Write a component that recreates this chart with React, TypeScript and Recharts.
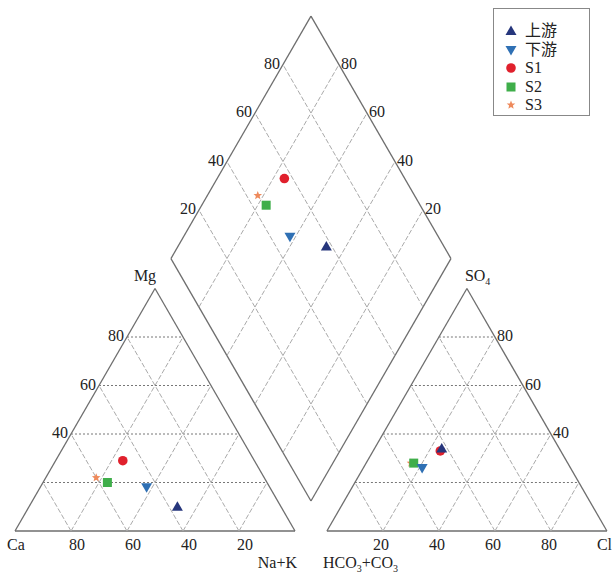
import React from 'react';
import { ScatterChart, Scatter, XAxis, YAxis, ReferenceLine } from 'recharts';

const W = 614;
const H = 575;
const S = Math.sqrt(3) / 2;
const GAP = 11.4; // space between the two triangles (in % units)
const DIAMOND_BASE = 10.7;

// samples, % meq
const SAMPLES = ['上游', '下游', 'S1', 'S2', 'S3'];
const CA = [37, 44, 47, 57, 60];
const MG = [10, 18, 29, 20, 22];
const NAK = [53, 38, 24, 23, 18];
const HCO3 = [42, 53, 43, 55, 56];
const SO4 = [34, 26, 33, 28, 28];
const CL = [24, 21, 24, 17, 16];

const COLORS = ['#26367c', '#2f70b4', '#e0202c', '#3fae4a', '#ee8a5c'];
const MARKERS = ['up', 'down', 'circle', 'square', 'star'];

const TICKS = [20, 40, 60, 80];
const SIDE_TICKS = [40, 60, 80];

const FONT = "'Liberation Serif', 'DejaVu Serif', 'Noto Sans CJK SC', serif";

// ternary -> chart coords
const cationPt = (mg: number, nak: number) => ({ x: nak + mg / 2, y: mg * S });
const anionPt = (so4: number, cl: number) => ({ x: 100 + GAP + cl + so4 / 2, y: so4 * S });
const diamondPt = (camg: number, so4cl: number) => ({
  x: 100 + GAP / 2 + (so4cl - camg) / 2,
  y: DIAMOND_BASE + (camg + so4cl) * S,
});

type P = { x: number; y: number };
type Seg = { a: P; b: P; kind: 'frame' | 'dot' | 'dash' };

const segs: Seg[] = [];
const R0 = 100 + GAP;

// cation triangle
segs.push({ a: { x: 0, y: 0 }, b: { x: 100, y: 0 }, kind: 'frame' });
segs.push({ a: { x: 0, y: 0 }, b: { x: 50, y: 100 * S }, kind: 'frame' });
segs.push({ a: { x: 100, y: 0 }, b: { x: 50, y: 100 * S }, kind: 'frame' });
// anion triangle
segs.push({ a: { x: R0, y: 0 }, b: { x: R0 + 100, y: 0 }, kind: 'frame' });
segs.push({ a: { x: R0, y: 0 }, b: { x: R0 + 50, y: 100 * S }, kind: 'frame' });
segs.push({ a: { x: R0 + 100, y: 0 }, b: { x: R0 + 50, y: 100 * S }, kind: 'frame' });
// diamond
const dB = diamondPt(0, 0);
const dL = diamondPt(100, 0);
const dT = diamondPt(100, 100);
const dR = diamondPt(0, 100);
segs.push({ a: dB, b: dL, kind: 'frame' });
segs.push({ a: dL, b: dT, kind: 'frame' });
segs.push({ a: dT, b: dR, kind: 'frame' });
segs.push({ a: dR, b: dB, kind: 'frame' });

TICKS.forEach((k) => {
  // cation grid
  segs.push({ a: { x: k / 2, y: k * S }, b: { x: 100 - k / 2, y: k * S }, kind: 'dot' });
  segs.push({ a: { x: 100 - k, y: 0 }, b: { x: (100 - k) / 2, y: (100 - k) * S }, kind: 'dash' });
  segs.push({ a: { x: k, y: 0 }, b: { x: k + (100 - k) / 2, y: (100 - k) * S }, kind: 'dash' });
  // anion grid
  segs.push({ a: { x: R0 + k / 2, y: k * S }, b: { x: R0 + 100 - k / 2, y: k * S }, kind: 'dot' });
  segs.push({ a: { x: R0 + k, y: 0 }, b: { x: R0 + k / 2, y: k * S }, kind: 'dash' });
  segs.push({ a: { x: R0 + k, y: 0 }, b: { x: R0 + k + (100 - k) / 2, y: (100 - k) * S }, kind: 'dash' });
  // diamond grid
  segs.push({ a: diamondPt(k, 0), b: diamondPt(k, 100), kind: 'dash' });
  segs.push({ a: diamondPt(0, k), b: diamondPt(100, k), kind: 'dash' });
});

const segStyle = {
  frame: { stroke: '#6e6e6e', strokeWidth: 1.3 },
  dot: { stroke: '#777', strokeWidth: 1, strokeDasharray: '2 2' },
  dash: { stroke: '#aaa', strokeWidth: 1, strokeDasharray: '5 2' },
};

// text labels
type Lbl = { x: number; y: number; parts: [string, boolean][]; anchor: string; dx: number; dy: number };
const labels: Lbl[] = [];
const t = (s: string): [string, boolean][] => [[s, false]];

SIDE_TICKS.forEach((k) => {
  labels.push({ x: k / 2, y: k * S, parts: t(String(k)), anchor: 'end', dx: -3, dy: 4 });
  labels.push({ x: R0 + 100 - k / 2, y: k * S, parts: t(String(k)), anchor: 'start', dx: 2, dy: 4 });
});
TICKS.forEach((k) => {
  labels.push({ x: 100 - k, y: 0, parts: t(String(k)), anchor: 'middle', dx: 6, dy: 19 });
  labels.push({ x: R0 + k, y: 0, parts: t(String(k)), anchor: 'middle', dx: -2, dy: 19 });
  const l = diamondPt(100, k);
  labels.push({ x: l.x, y: l.y, parts: t(String(k)), anchor: 'end', dx: -3, dy: 4 });
  const r = diamondPt(k, 100);
  labels.push({ x: r.x, y: r.y, parts: t(String(k)), anchor: 'start', dx: 2, dy: 4 });
});
labels.push({ x: 50, y: 100 * S, parts: t('Mg'), anchor: 'middle', dx: -10, dy: -8 });
labels.push({ x: 0, y: 0, parts: t('Ca'), anchor: 'start', dx: -8, dy: 19 });
labels.push({ x: 100, y: 0, parts: t('Na+K'), anchor: 'end', dx: 2, dy: 37 });
labels.push({ x: R0 + 50, y: 100 * S, parts: [['SO', false], ['4', true]], anchor: 'start', dx: -2, dy: -8 });
labels.push({
  x: R0, y: 0,
  parts: [['HCO', false], ['3', true], ['+CO', false], ['3', true]],
  anchor: 'start', dx: -4, dy: 37,
});
labels.push({ x: R0 + 100, y: 0, parts: t('Cl'), anchor: 'start', dx: -10, dy: 19 });

const LabelShape = (props: any) => {
  const { cx, cy, payload } = props;
  let shifted = false;
  return (
    <text
      x={cx + payload.dx}
      y={cy + payload.dy}
      textAnchor={payload.anchor}
      fontFamily={FONT}
      fontSize={16}
      fill="#222"
    >
      {payload.parts.map(([s, sub]: [string, boolean], i: number) => {
        let dy = 0;
        if (sub && !shifted) { dy = 4; shifted = true; }
        else if (!sub && shifted) { dy = -4; shifted = false; }
        return (
          <tspan key={i} dy={dy} fontSize={sub ? 10 : 16}>{s}</tspan>
        );
      })}
    </text>
  );
};

const markerPath = (kind: string, cx: number, cy: number, color: string) => {
  switch (kind) {
    case 'up':
      return <polygon points={`${cx},${cy - 5.5} ${cx + 5.5},${cy + 4} ${cx - 5.5},${cy + 4}`} fill={color} />;
    case 'down':
      return <polygon points={`${cx},${cy + 5.5} ${cx + 5.5},${cy - 4} ${cx - 5.5},${cy - 4}`} fill={color} />;
    case 'circle':
      return <circle cx={cx} cy={cy} r={4.8} fill={color} />;
    case 'square':
      return <rect x={cx - 4.5} y={cy - 4.5} width={9} height={9} fill={color} />;
    default: {
      const pts: string[] = [];
      for (let i = 0; i < 10; i++) {
        const r = i % 2 === 0 ? 4.5 : 2;
        const a = -Math.PI / 2 + (i * Math.PI) / 5;
        pts.push(`${cx + r * Math.cos(a)},${cy + r * Math.sin(a)}`);
      }
      return <polygon points={pts.join(' ')} fill={color} />;
    }
  }
};

const sampleData = SAMPLES.map((_, i) => [
  cationPt(MG[i], NAK[i]),
  anionPt(SO4[i], CL[i]),
  diamondPt(CA[i] + MG[i], SO4[i] + CL[i]),
]);

const drawOrder = [4, 3, 2, 1, 0];

const X_MIN = -15 / 2.8;
const X_MAX = (W - 15) / 2.8;
const Y_MAX = 531 / 2.8;
const Y_MIN = -(H - 531) / 2.8;

export default function App() {
  return (
    <div style={{ position: 'absolute', left: 0, top: 0, width: W, height: H, background: '#fff' }}>
      <ScatterChart width={W} height={H} margin={{ top: 0, right: 0, bottom: 0, left: 0 }}>
        <XAxis type="number" dataKey="x" domain={[X_MIN, X_MAX]} allowDataOverflow hide />
        <YAxis type="number" dataKey="y" domain={[Y_MIN, Y_MAX]} allowDataOverflow hide />
        {segs.map((s, i) => (
          <ReferenceLine
            key={i}
            segment={[s.a, s.b]}
            ifOverflow="visible"
            {...segStyle[s.kind]}
          />
        ))}
        <Scatter data={labels} shape={LabelShape} isAnimationActive={false} />
        {drawOrder.map((i) => (
          <Scatter
            key={SAMPLES[i]}
            name={SAMPLES[i]}
            data={sampleData[i]}
            isAnimationActive={false}
            shape={(p: any) => markerPath(MARKERS[i], p.cx, p.cy, COLORS[i])}
          />
        ))}
      </ScatterChart>
      <div
        style={{
          position: 'absolute',
          left: 493,
          top: 8,
          width: 97,
          height: 108,
          border: '1px solid #888',
          background: '#fff',
          fontFamily: FONT,
          fontSize: 16,
          paddingTop: 13,
          boxSizing: 'border-box',
        }}
      >
        {SAMPLES.map((name, i) => (
          <div key={name} style={{ display: 'flex', alignItems: 'center', height: 18.5, lineHeight: '18.5px' }}>
            <svg width={14} height={14} style={{ marginLeft: 10, marginRight: 7 }}>
              {markerPath(MARKERS[i], 7, 7, COLORS[i])}
            </svg>
            <span style={{ color: '#222' }}>{name}</span>
          </div>
        ))}
      </div>
    </div>
  );
}
